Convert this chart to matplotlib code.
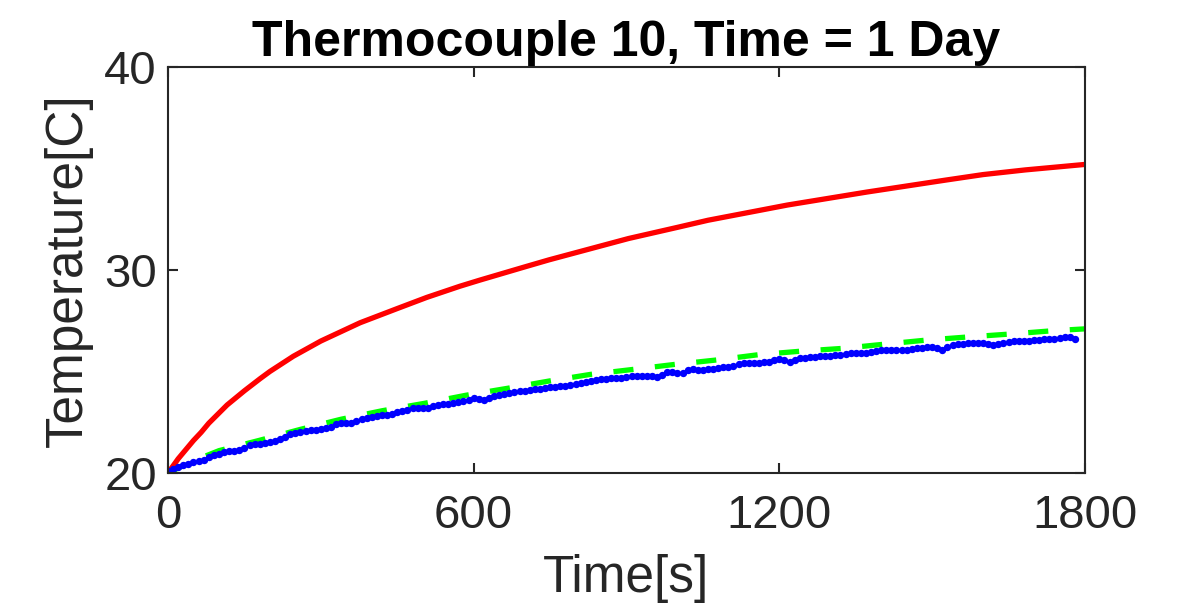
import matplotlib
matplotlib.use('Agg')
import matplotlib.pyplot as plt

# model curve (red)
t_model = [0, 10, 20, 30, 40, 50, 65, 80, 100, 116, 150, 181, 200, 246, 300, 377, 450,
           508, 573, 612, 700, 748, 800, 904, 1000, 1060, 1216, 1372, 1527, 1600, 1683, 1800]
T_model = [20.0, 20.35, 20.7, 21.0, 21.3, 21.6, 22.0, 22.45, 22.95, 23.35, 24.05, 24.65,
           25.0, 25.75, 26.5, 27.4, 28.1, 28.65, 29.2, 29.5, 30.15, 30.5, 30.85, 31.55,
           32.1, 32.45, 33.2, 33.84, 34.43, 34.7, 34.93, 35.2]

# fitted curve (green dashed)
t_fit = [0, 50, 100, 178, 260, 340, 421, 503, 585, 666, 748, 830, 912, 995, 1078, 1160,
         1242, 1325, 1408, 1490, 1575, 1656, 1738, 1800]
T_fit = [20.0, 20.6, 21.1, 21.6, 22.15, 22.65, 23.07, 23.43, 23.83, 24.17, 24.53, 24.86,
         25.1, 25.35, 25.57, 25.83, 26.0, 26.14, 26.35, 26.55, 26.71, 26.85, 27.01, 27.1]

# measured (blue dots), every 10 s
t_meas = list(range(0, 1790, 10))
T_meas = [20.10, 20.22, 20.30, 20.38, 20.45, 20.56, 20.60, 20.64, 20.80, 20.90,
          20.95, 21.03, 21.06, 21.10, 21.13, 21.25, 21.38, 21.43, 21.45, 21.49,
          21.52, 21.60, 21.66, 21.78, 21.90, 21.96, 22.02, 22.08, 22.10, 22.12,
          22.15, 22.20, 22.28, 22.40, 22.45, 22.46, 22.48, 22.58, 22.65, 22.70,
          22.76, 22.80, 22.84, 22.86, 22.92, 23.00, 23.05, 23.12, 23.19, 23.18,
          23.20, 23.22, 23.28, 23.35, 23.38, 23.40, 23.43, 23.48, 23.54, 23.60,
          23.68, 23.66, 23.62, 23.70, 23.78, 23.82, 23.88, 23.93, 23.98, 24.02,
          24.06, 24.08, 24.12, 24.15, 24.18, 24.22, 24.25, 24.28, 24.30, 24.33,
          24.36, 24.44, 24.50, 24.54, 24.58, 24.62, 24.64, 24.66, 24.67, 24.70,
          24.74, 24.76, 24.77, 24.78, 24.77, 24.76, 24.75, 24.85, 24.96, 24.98,
          24.92, 24.95, 25.08, 25.10, 25.08, 25.07, 25.10, 25.14, 25.17, 25.20,
          25.24, 25.28, 25.35, 25.40, 25.42, 25.43, 25.44, 25.46, 25.48, 25.55,
          25.60, 25.55, 25.48, 25.56, 25.65, 25.68, 25.71, 25.73, 25.74, 25.76,
          25.78, 25.80, 25.81, 25.86, 25.92, 25.93, 25.91, 25.90, 25.96, 26.03,
          26.06, 26.05, 26.06, 26.04, 26.06, 26.06, 26.10, 26.15, 26.17, 26.20,
          26.22, 26.14, 26.06, 26.20, 26.30, 26.34, 26.37, 26.39, 26.40, 26.42,
          26.40, 26.34, 26.30, 26.35, 26.40, 26.43, 26.48, 26.52, 26.52, 26.52,
          26.53, 26.56, 26.59, 26.60, 26.62, 26.64, 26.68, 26.72, 26.60]

xticks = [0, 600, 1200, 1800]
yticks = [20, 30, 40]

plt.rcParams['font.family'] = ['Liberation Sans', 'DejaVu Sans']
plt.rcParams['lines.scale_dashes'] = False

fig = plt.figure(figsize=(11.94, 6.10), dpi=100)
ax = fig.add_axes([0.1407, 0.2246, 0.768, 0.6656])

ax.plot(t_model, T_model, c='#ff0000', lw=3.8, solid_capstyle='butt')
ax.plot(t_fit, T_fit, c='#00ff00', lw=3.8, dashes=(14.5, 15.5))
ax.plot(t_meas, T_meas, ls='none', marker='o', ms=5.3, mec='none', mfc='#0000ff')

ax.set_xlim(0, 1800)
ax.set_ylim(20, 40)
ax.set_xticks(xticks)
ax.set_yticks(yticks)
ax.tick_params(direction='in', length=7, width=1.5, top=True, right=True,
               labelsize=34, colors='#262626')
ax.tick_params(axis='x', pad=15)
ax.tick_params(axis='y', pad=8)
for s in ax.spines.values():
    s.set_linewidth(1.5)
    s.set_color('#262626')

ax.set_xlabel('Time[s]', fontsize=37, color='#262626', labelpad=12)
ax.set_ylabel('Temperature[C]', fontsize=37, color='#262626', labelpad=8)
ax.set_title('Thermocouple 10, Time = 1 Day', fontsize=36, fontweight='bold', pad=8)

fig.savefig('out.png', dpi=100)
